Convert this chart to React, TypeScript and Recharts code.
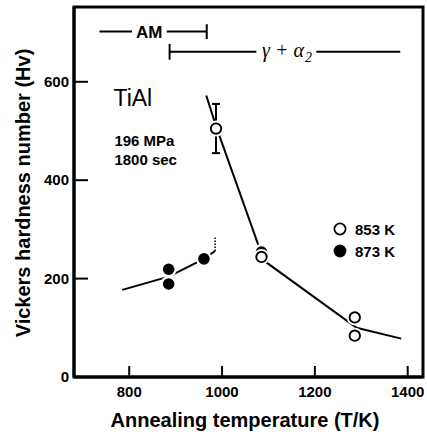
import {
  ComposedChart,
  Line,
  Scatter,
  XAxis,
  YAxis,
  ReferenceLine,
  ReferenceDot,
  ReferenceArea,
  ErrorBar,
  Legend,
} from "recharts";

const xDomain = [681, 1433];
const yDomain = [0, 752];
const xTicks = [800, 1000, 1200, 1400];
const yTicks = [0, 200, 400, 600];

// measured points (T in K, Hv)
const open853 = [
  { t: 987, hv: 505 },
  { t: 1085, hv: 244 },
  { t: 1286, hv: 121 },
  { t: 1286, hv: 84 },
];
const open853Err = [{ t: 987, hv: 505, err: 50 }];
const filled873 = [
  { t: 885, hv: 219 },
  { t: 885, hv: 189 },
  { t: 961, hv: 240 },
  { t: 1085, hv: 254 },
];

// hand drawn trend lines
const trend853 = [
  { t: 966, hv: 572 },
  { t: 987, hv: 510 },
  { t: 1085, hv: 250 },
  { t: 1085, hv: 240 },
  { t: 1290, hv: 100 },
  { t: 1386, hv: 78 },
];
const trend873 = [
  { t: 785, hv: 177 },
  { t: 885, hv: 204 },
  { t: 961, hv: 240 },
  { t: 985, hv: 256 },
];
const dotted873 = [
  { t: 985, hv: 256 },
  { t: 985, hv: 284 },
];

// phase ranges at top
const amSegments = [
  [736, 806],
  [881, 967],
];
const amY = 702;
const amEnd = 967;
const gammaSegments = [
  [887, 1074],
  [1203, 1384],
];
const gammaY = 661;
const gammaStart = 887;

const legendItems = [
  { name: "853 K", filled: false },
  { name: "873 K", filled: true },
];

const FONT = "'Liberation Sans', Arial, sans-serif";

const OpenDot = (p: any) => (
  <g>
    <circle cx={p.cx} cy={p.cy} r={8} fill="#fff" />
    <circle cx={p.cx} cy={p.cy} r={5.2} fill="#fff" stroke="#000" strokeWidth={1.9} />
  </g>
);

const FilledDot = (p: any) => (
  <g>
    <circle cx={p.cx} cy={p.cy} r={8} fill="#fff" />
    <circle cx={p.cx} cy={p.cy} r={5.8} fill="#000" />
  </g>
);

const XTick = ({ x, y, payload }: any) => (
  <g>
    <line x1={x} y1={y} x2={x} y2={y - 11} stroke="#000" strokeWidth={2} />
    <text x={x} y={y + 20} textAnchor="middle" fontFamily={FONT} fontWeight="bold" fontSize={15} fill="#000">
      {payload.value}
    </text>
  </g>
);

const YTick = ({ x, y, payload }: any) => (
  <g>
    <line x1={x} y1={y} x2={x + 14} y2={y} stroke="#000" strokeWidth={2} />
    <text x={x - 5} y={y + 5} textAnchor="end" fontFamily={FONT} fontWeight="bold" fontSize={15} fill="#000">
      {payload.value}
    </text>
  </g>
);

const textAt = (content: any, opts: any) => ({
  content: ({ viewBox }: any) => (
    <text x={viewBox.x} y={viewBox.y} fontFamily={FONT} fill="#000" {...opts}>
      {content}
    </text>
  ),
});

export default function App() {
  return (
    <div style={{ position: "absolute", left: 0, top: 0, background: "#fff" }}>
      <ComposedChart
        width={427}
        height={437}
        margin={{ top: 7, right: 4, bottom: 0, left: 0 }}
      >
        <ReferenceArea
          x1={xDomain[0]}
          x2={xDomain[1]}
          y1={yDomain[0]}
          y2={yDomain[1]}
          fill="none"
          stroke="#000"
          strokeWidth={3}
          fillOpacity={0}
        />
        <XAxis
          dataKey="t"
          type="number"
          domain={xDomain}
          ticks={xTicks}
          height={60}
          tickSize={0}
          tickMargin={0}
          tickLine={false}
          axisLine={{ stroke: "#000", strokeWidth: 3 }}
          tick={<XTick />}
          allowDataOverflow
          label={{
            content: () => (
              <text x={245} y={427} textAnchor="middle" fontFamily={FONT} fontWeight="bold" fontSize={20} fill="#000">
                Annealing temperature (T/K)
              </text>
            ),
          }}
        />
        <YAxis
          dataKey="hv"
          type="number"
          domain={yDomain}
          ticks={yTicks}
          width={74}
          tickSize={0}
          tickMargin={0}
          tickLine={false}
          axisLine={{ stroke: "#000", strokeWidth: 3 }}
          tick={<YTick />}
          allowDataOverflow
          label={{
            content: () => (
              <text
                x={23}
                y={193}
                transform="rotate(-90 23 193)"
                textAnchor="middle"
                dominantBaseline="central"
                fontFamily={FONT}
                fontWeight="bold"
                fontSize={20}
                fill="#000"
              >
                Vickers hardness number (Hv)
              </text>
            ),
          }}
        />

        {amSegments.map((s, i) => (
          <ReferenceLine key={`am${i}`} segment={[{ x: s[0], y: amY }, { x: s[1], y: amY }]} stroke="#000" strokeWidth={2} />
        ))}
        <ReferenceLine segment={[{ x: amEnd, y: amY - 15 }, { x: amEnd, y: amY + 15 }]} stroke="#000" strokeWidth={2} />
        {gammaSegments.map((s, i) => (
          <ReferenceLine key={`g${i}`} segment={[{ x: s[0], y: gammaY }, { x: s[1], y: gammaY }]} stroke="#000" strokeWidth={2} />
        ))}
        <ReferenceLine segment={[{ x: gammaStart, y: gammaY - 16 }, { x: gammaStart, y: gammaY + 16 }]} stroke="#000" strokeWidth={2} />

        <ReferenceDot x={843} y={amY} r={0} label={textAt("AM", { textAnchor: "middle", fontWeight: "bold", fontSize: 17, dy: 6 })} />
        <ReferenceDot
          x={1140}
          y={gammaY}
          r={0}
          label={{
            content: ({ viewBox }: any) => (
              <text x={viewBox.x} y={viewBox.y + 5} textAnchor="middle" fontFamily="'Liberation Serif', serif" fontStyle="italic" fontSize={20} fill="#000">
                {"γ + α"}
                <tspan fontSize={14} dy={5} dx={1}>2</tspan>
              </text>
            ),
          }}
        />
        <ReferenceDot x={766} y={568} r={0} label={textAt("TiAl", { fontSize: 23, dy: 8 })} />
        <ReferenceDot x={768} y={480} r={0} label={textAt("196 MPa", { fontSize: 15, fontWeight: "bold", dy: 5 })} />
        <ReferenceDot x={768} y={442} r={0} label={textAt("1800 sec", { fontSize: 15, fontWeight: "bold", dy: 5 })} />

        <Line data={trend853} dataKey="hv" stroke="#000" strokeWidth={2} dot={false} isAnimationActive={false} legendType="none" />
        <Line data={trend873} dataKey="hv" stroke="#000" strokeWidth={2} dot={false} isAnimationActive={false} legendType="none" />
        <Line data={dotted873} dataKey="hv" stroke="#000" strokeWidth={1.5} strokeDasharray="1.5 1.5" dot={false} isAnimationActive={false} legendType="none" />

        <Scatter data={open853Err} shape={() => <g />} isAnimationActive={false} legendType="none">
          <ErrorBar dataKey="err" direction="y" width={4} stroke="#000" strokeWidth={2} />
        </Scatter>
        <Scatter data={filled873} shape={<FilledDot />} isAnimationActive={false} />
        <Scatter data={open853} shape={<OpenDot />} isAnimationActive={false} />

        <Legend
          layout="horizontal"
          verticalAlign="middle"
          align="center"
          wrapperStyle={{ position: "absolute", left: 333, top: 218, width: 90 }}
          content={() => (
            <div style={{ fontFamily: FONT, fontWeight: "bold", fontSize: 15 }}>
              {legendItems.map((it) => (
                <div key={it.name} style={{ display: "flex", alignItems: "center", height: 22 }}>
                  <svg width={16} height={16} style={{ marginRight: 6 }}>
                    <circle cx={7} cy={8} r={it.filled ? 6.4 : 5.6} fill={it.filled ? "#000" : "#fff"} stroke="#000" strokeWidth={it.filled ? 0 : 1.8} />
                  </svg>
                  <span>{it.name}</span>
                </div>
              ))}
            </div>
          )}
        />
      </ComposedChart>
    </div>
  );
}
